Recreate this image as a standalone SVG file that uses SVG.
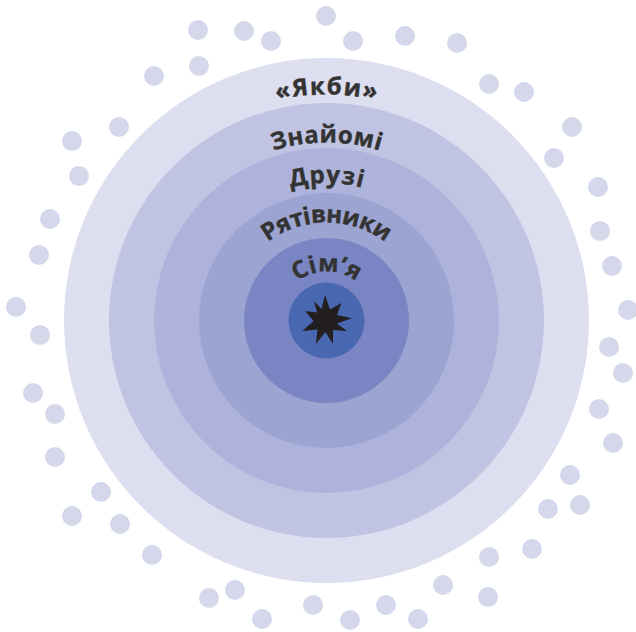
<svg xmlns="http://www.w3.org/2000/svg" xmlns:xlink="http://www.w3.org/1999/xlink" width="636" height="632" viewBox="0 0 636 632">
<style>
.dot{fill:#d5d8eb}
.lbl{font-family:"Open Sans","DejaVu Sans",sans-serif;font-weight:700;font-size:24px;fill:#333333;stroke:#333333;stroke-width:0.4}
</style>
<defs>
<path id="p1" d="M100.5,320.5 A226,226 0 0 1 552.5,320.5"/>
<path id="p2" d="M148.5,320.5 A178,178 0 0 1 504.5,320.5"/>
<path id="p3" d="M189,320.5 A137.5,137.5 0 0 1 464,320.5"/>
<path id="p4" d="M228.5,320.5 A98,98 0 0 1 424.5,320.5"/>
<path id="p5" d="M277.5,320.5 A49,49 0 0 1 375.5,320.5"/>
</defs>
<rect width="636" height="632" fill="#ffffff"/>
<g id="dots">
<circle class="dot" cx="198" cy="30" r="10"/><circle class="dot" cx="244" cy="31" r="10"/><circle class="dot" cx="271" cy="41" r="10"/><circle class="dot" cx="326" cy="16" r="10"/><circle class="dot" cx="199" cy="66" r="10"/><circle class="dot" cx="154" cy="76" r="10"/><circle class="dot" cx="119" cy="127" r="10"/><circle class="dot" cx="72" cy="141" r="10"/><circle class="dot" cx="79" cy="176" r="10"/><circle class="dot" cx="50" cy="219" r="10"/><circle class="dot" cx="39" cy="255" r="10"/><circle class="dot" cx="16" cy="307" r="10"/>
<circle class="dot" cx="353" cy="41" r="10"/><circle class="dot" cx="405" cy="36" r="10"/><circle class="dot" cx="457" cy="43" r="10"/><circle class="dot" cx="489" cy="84" r="10"/><circle class="dot" cx="524" cy="92" r="10"/><circle class="dot" cx="572" cy="127" r="10"/><circle class="dot" cx="554" cy="158" r="10"/><circle class="dot" cx="598" cy="187" r="10"/><circle class="dot" cx="600" cy="231" r="10"/><circle class="dot" cx="612" cy="266" r="10"/><circle class="dot" cx="628" cy="310" r="10"/>
<circle class="dot" cx="40" cy="335" r="10"/><circle class="dot" cx="33" cy="393" r="10"/><circle class="dot" cx="55" cy="414" r="10"/><circle class="dot" cx="55" cy="457" r="10"/><circle class="dot" cx="101" cy="492" r="10"/><circle class="dot" cx="72" cy="516" r="10"/><circle class="dot" cx="120" cy="524" r="10"/><circle class="dot" cx="152" cy="555" r="10"/><circle class="dot" cx="209" cy="598" r="10"/><circle class="dot" cx="235" cy="590" r="10"/><circle class="dot" cx="262" cy="619" r="10"/><circle class="dot" cx="313" cy="605" r="10"/>
<circle class="dot" cx="609" cy="347" r="10"/><circle class="dot" cx="623" cy="373" r="10"/><circle class="dot" cx="599" cy="409" r="10"/><circle class="dot" cx="613" cy="443" r="10"/><circle class="dot" cx="570" cy="475" r="10"/><circle class="dot" cx="548" cy="509" r="10"/><circle class="dot" cx="580" cy="505" r="10"/><circle class="dot" cx="532" cy="549" r="10"/><circle class="dot" cx="489" cy="557" r="10"/><circle class="dot" cx="443" cy="585" r="10"/><circle class="dot" cx="488" cy="597" r="10"/><circle class="dot" cx="386" cy="605" r="10"/><circle class="dot" cx="350" cy="620" r="10"/><circle class="dot" cx="418" cy="619" r="10"/>
</g>
<g id="ring-yakby"><circle cx="326.5" cy="320.5" r="262.5" fill="#dddff0"/></g>
<g id="ring-znayomi"><circle cx="326.5" cy="320.5" r="217.5" fill="#c0c4e2"/></g>
<g id="ring-druzi"><circle cx="326.5" cy="320.5" r="172.5" fill="#adb3da"/></g>
<g id="ring-ryativnyky"><circle cx="326.5" cy="320.5" r="127.5" fill="#9ca4d1"/></g>
<g id="ring-simya"><circle cx="326.5" cy="320.5" r="82.5" fill="#7a86c3"/></g>
<g id="core">
<circle cx="326.5" cy="320.5" r="38" fill="#4a67b1"/>
<polygon fill="#231f20" points="325,295 330,309.5 341.4,302.9 337,315 351.9,318.2 337,323.5 347,331 333,330 332.9,344 325.4,332 315.8,343.9 317.5,329.5 302.4,331 313.5,321 305.1,311 317,312.5 314,301 321.5,309"/>
</g>
<g id="labels">
<text class="lbl"><textPath xlink:href="#p1" href="#p1" startOffset="50%" text-anchor="middle" textLength="100">«Якби»</textPath></text>
<text class="lbl"><textPath xlink:href="#p2" href="#p2" startOffset="50%" text-anchor="middle" textLength="108">Знайомі</textPath></text>
<text class="lbl"><textPath xlink:href="#p3" href="#p3" startOffset="50%" text-anchor="middle" textLength="72">Друзі</textPath></text>
<text class="lbl"><textPath xlink:href="#p4" href="#p4" startOffset="50%" text-anchor="middle" textLength="126">Рятівники</textPath></text>
<text class="lbl"><textPath xlink:href="#p5" href="#p5" startOffset="50%" text-anchor="middle" textLength="63">Сім’я</textPath></text>
</g>
</svg>
